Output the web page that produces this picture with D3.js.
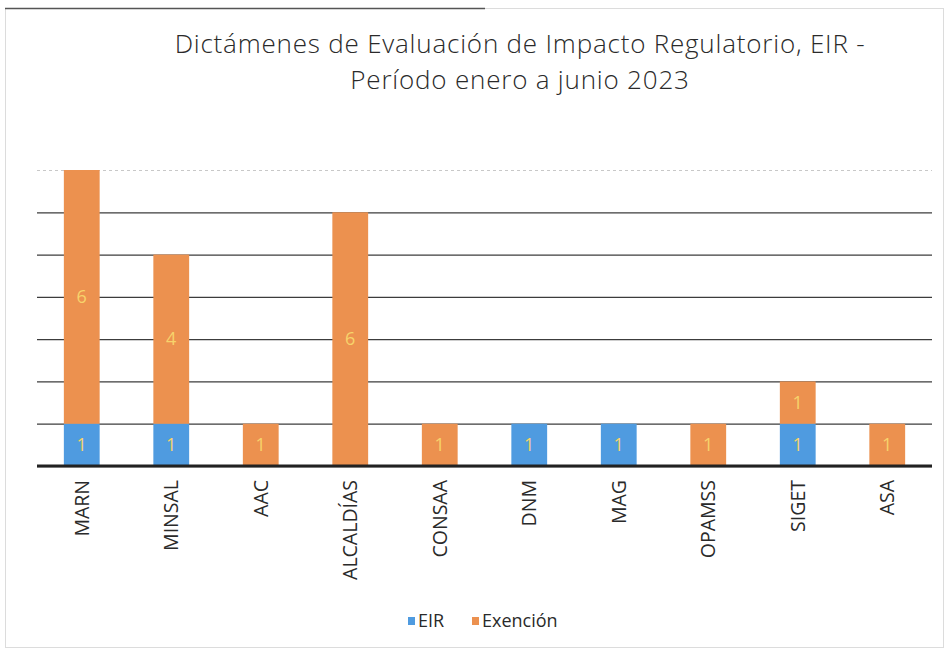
<!DOCTYPE html>
<html>
<head>
<meta charset="utf-8">
<script src="https://cdn.jsdelivr.net/npm/d3@7"></script>
<style>
	body { margin: 0; background: #fff; }
	svg { display: block; font-family: 'Open Sans', 'Noto Sans', sans-serif; }
</style>
</head>
<body>
<div id="chart"></div>
<script>

	/***********************************************************************/
	//Data
	/***********************************************************************/
	const categories = ['MARN', 'MINSAL', 'AAC', 'ALCALDÍAS', 'CONSAA', 'DNM', 'MAG', 'OPAMSS', 'SIGET', 'ASA']
	const eirValues = [1, 1, 0, 0, 0, 1, 1, 0, 1, 0]
	const exencionValues = [6, 4, 1, 6, 1, 0, 0, 1, 1, 1]
	const seriesNames = ['EIR', 'Exención']
	const yTickValues = [0, 1, 2, 3, 4, 5, 6, 7]
	const titleLines = ['Dictámenes de Evaluación de Impacto Regulatorio, EIR -', 'Período enero a junio 2023']

	const rows = categories.map((cat, i) => ({ cat, EIR: eirValues[i], 'Exención': exencionValues[i] }))
	const stacked = d3.stack().keys(seriesNames)(rows)

	/***********************************************************************/
	//Plot Area
	/***********************************************************************/
	const width = 949
	const height = 653
	const margin = { left: 37, right: 17, top: 170, bottom: 187 }

	const plotW = width - margin.left - margin.right
	const plotH = height - margin.top - margin.bottom

	const colors = { 'EIR': '#4f9be0', 'Exención': '#ec914f' }

	const svg = d3.select('#chart')
		.append('svg')
		.attr('width', width)
		.attr('height', height)

	// faint frame of the scanned chart
	svg.append('rect')
		.attr('x', 5.5).attr('y', 8.5)
		.attr('width', width - 11).attr('height', height - 14)
		.attr('fill', 'none')
		.attr('stroke', '#dcdcdc')

	svg.append('line')
		.attr('x1', 5).attr('x2', 485)
		.attr('y1', 8.5).attr('y2', 8.5)
		.attr('stroke', '#555')
		.attr('stroke-width', 1.5)

	svg.selectAll('.title')
		.data(titleLines)
		.join('text')
		.attr('class', 'title')
		.attr('x', 520)
		.attr('y', (d, i) => 53 + i * 36)
		.attr('text-anchor', 'middle')
		.attr('font-size', '26px')
		.attr('font-weight', 300)
		.attr('letter-spacing', '0.8px')
		.attr('fill', '#2a2a2a')
		.text(d => d)

	const g = svg.append('g')
		.attr('transform', 'translate(' + margin.left + ',' + margin.top + ')')

	/***********************************************************************/
	//Scale
	/***********************************************************************/
	const xScale = d3.scaleBand()
		.domain(categories)
		.range([0, plotW])
		.paddingInner(0.6)
		.paddingOuter(0.3)

	const yScale = d3.scaleLinear()
		.domain([0, 7])
		.range([plotH, 0])

	/***********************************************************************/
	//Axes
	/***********************************************************************/
	const yAxisG = g.append('g')
		.call(d3.axisLeft(yScale).tickValues(yTickValues).tickSize(-plotW).tickFormat(''))

	yAxisG.select('.domain').remove()
	yAxisG.selectAll('.tick line')
		.attr('stroke', d => d === 7 ? '#c8c8c8' : '#3c3c3c')
		.attr('stroke-width', d => d === 7 ? 1 : 1.3)
		.attr('stroke-dasharray', d => d === 7 ? '3 3' : null)

	/***********************************************************************/
	//Bars
	/***********************************************************************/
	const layers = g.selectAll('.layer')
		.data(stacked)
		.join('g')
		.attr('class', 'layer')
		.attr('fill', d => colors[d.key])

	layers.selectAll('rect')
		.data(d => d.filter(s => s[1] - s[0] > 0))
		.join('rect')
		.attr('x', d => xScale(d.data.cat))
		.attr('y', d => yScale(d[1]))
		.attr('width', xScale.bandwidth())
		.attr('height', d => yScale(d[0]) - yScale(d[1]))

	layers.selectAll('.val')
		.data(d => d.filter(s => s[1] - s[0] > 0))
		.join('text')
		.attr('class', 'val')
		.attr('x', d => xScale(d.data.cat) + xScale.bandwidth() / 2)
		.attr('y', d => yScale((d[0] + d[1]) / 2))
		.attr('dy', '0.35em')
		.attr('text-anchor', 'middle')
		.attr('font-size', '18px')
		.attr('fill', '#f7d36b')
		.text(d => d[1] - d[0])

	// baseline
	g.append('line')
		.attr('x1', 0).attr('x2', plotW)
		.attr('y1', yScale(0)).attr('y2', yScale(0))
		.attr('stroke', '#222')
		.attr('stroke-width', 3)

	const xAxisG = g.append('g')
		.attr('transform', 'translate(0,' + plotH + ')')
		.call(d3.axisBottom(xScale).tickSize(0).tickPadding(0))

	xAxisG.select('.domain').remove()
	xAxisG.selectAll('text')
		.attr('transform', 'rotate(-90)')
		.attr('text-anchor', 'end')
		.attr('x', -14)
		.attr('y', 0)
		.attr('dy', '0.35em')
		.attr('font-size', '19.5px')
		.attr('fill', '#2a2a2a')
		.attr('font-family', "'Open Sans', sans-serif")

	/***********************************************************************/
	//Legend
	/***********************************************************************/
	const legend = svg.append('g')
		.attr('transform', 'translate(408,621)')

	const items = legend.selectAll('.item')
		.data(seriesNames)
		.join('g')
		.attr('class', 'item')
		.attr('transform', (d, i) => 'translate(' + (i * 64) + ',0)')

	items.append('rect')
		.attr('x', 0).attr('y', -4)
		.attr('width', 7).attr('height', 8)
		.attr('fill', d => colors[d])

	items.append('text')
		.attr('x', 10)
		.attr('y', 0)
		.attr('dy', '0.35em')
		.attr('font-size', '18px')
		.attr('fill', '#2a2a2a')
		.text(d => d)

</script>
</body>
</html>
